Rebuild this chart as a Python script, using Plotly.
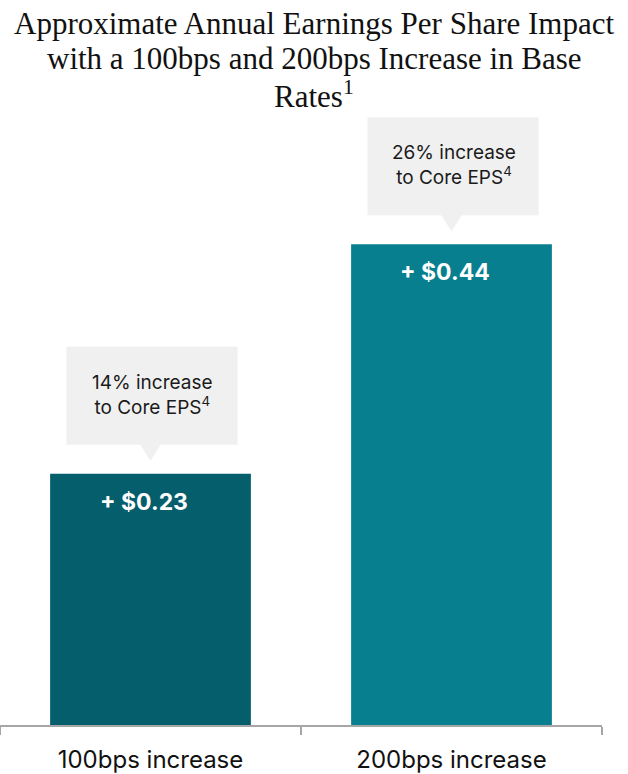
import plotly.graph_objects as go

# data
categories = ["100bps increase", "200bps increase"]
eps_impact = [0.23, 0.44]
value_labels = ["+ $0.23", "+ $0.44"]
callouts = ["14% increase<br>to Core EPS<sup>4</sup>", "26% increase<br>to Core EPS<sup>4</sup>"]
bar_colors = ["#055e6b", "#077f8f"]
title_lines = ["Approximate Annual Earnings Per Share Impact",
               "with a 100bps and 200bps Increase in Base",
               "Rates<sup>1</sup>"]
title_pos = [24, 58, 95]  # px from top of page

W, H = 628, 774
M = dict(l=0, r=26, t=110, b=49)
plot_h = H - M["t"] - M["b"]
plot_w = W - M["l"] - M["r"]

fig = go.Figure()
fig.add_bar(x=categories, y=eps_impact, marker=dict(color=bar_colors, line_width=0),
            hoverinfo="skip")

for i, (cat, val) in enumerate(zip(categories, eps_impact)):
    # value inside bar
    fig.add_annotation(x=cat, y=val, text=value_labels[i], showarrow=False,
                       yanchor="top", yshift=-12, xshift=-7,
                       font=dict(family="Inter", size=23, color="white", weight=700))
    # grey callout box + pointer
    fig.add_shape(type="rect", xref="x", yref="y", xsizemode="pixel", ysizemode="pixel",
                  xanchor=i, yanchor=val, x0=-84, x1=87, y0=29, y1=127,
                  fillcolor="#f0f0f0", line_width=0, layer="below")
    fig.add_shape(type="path", xref="x", yref="y", xsizemode="pixel", ysizemode="pixel",
                  xanchor=i, yanchor=val, path="M -10.5,29.5 L 10.5,29.5 L 0,13 Z",
                  fillcolor="#f0f0f0", line_width=0, layer="below")
    fig.add_annotation(x=cat, y=val, text=callouts[i], showarrow=False,
                       yanchor="middle", yshift=79, xshift=2, align="center",
                       font=dict(family="Inter", size=19, color="#1a1a1a"))

# title, one annotation per line so the spacing matches
for line, ypx in zip(title_lines, title_pos):
    fig.add_annotation(xref="paper", yref="paper", x=(W / 2 - M["l"]) / plot_w,
                       y=1 + (M["t"] - ypx) / plot_h, text=line, showarrow=False,
                       xanchor="center", yanchor="middle",
                       font=dict(family="Liberation Serif", size=31, color="#111111"))

fig.update_layout(
    width=W, height=H, margin=M,
    paper_bgcolor="white", plot_bgcolor="white",
    bargap=0.333, showlegend=False,
)
fig.update_xaxes(type="category", showline=True, linecolor="#a6a6a6", linewidth=1.5,
                 ticks="outside", tickson="boundaries", ticklen=8, tickcolor="#a6a6a6",
                 tickwidth=1.5, showgrid=False, ticklabelstandoff=12,
                 tickfont=dict(family="Inter", size=24, color="#111111"))
fig.update_yaxes(range=[0, 0.563], visible=False, showgrid=False)

fig.write_html("out.html", config={"displayModeBar": False},
               post_script="document.body.style.margin='0';")
